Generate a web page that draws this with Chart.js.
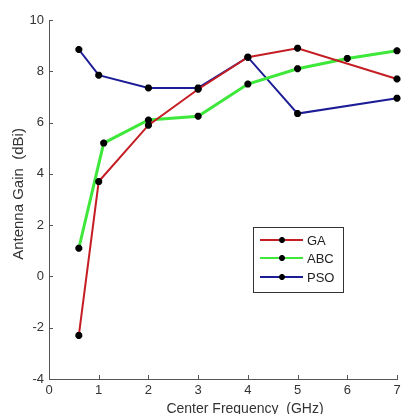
<!DOCTYPE html>
<html>
<head>
<meta charset="utf-8">
<script src="https://cdn.jsdelivr.net/npm/chart.js@4"></script>
<style>
  body { margin: 0; background: #fff; }
  #wrap { width: 401px; height: 414px; }
</style>
</head>
<body>
<div id="wrap"><canvas id="gainChart" width="401" height="414"></canvas></div>
<script>
// values
var gaFreq = [0.6, 1, 2, 3, 4, 5, 7];
var gaGain = [-2.3, 3.7, 5.9, 7.3, 8.55, 8.9, 7.7];
var abcFreq = [0.6, 1.1, 2, 3, 4, 5, 6, 7];
var abcGain = [1.1, 5.2, 6.1, 6.25, 7.5, 8.1, 8.5, 8.8];
var psoFreq = [0.6, 1, 2, 3, 4, 5, 7];
var psoGain = [8.85, 7.85, 7.35, 7.35, 8.55, 6.35, 6.95];
var seriesNames = ['GA', 'ABC', 'PSO'];
var xTicks = [0, 1, 2, 3, 4, 5, 6, 7];
var yTicks = [-4, -2, 0, 2, 4, 6, 8, 10];
var xTitle = 'Center Frequency  (GHz)';
var yTitle = 'Antenna Gain  (dBi)';

var FONT = '"Liberation Sans", Arial, sans-serif';

function toPoints(xs, ys) {
    var pts = [];
    for (var i = 0; i < xs.length; i++) {
        pts.push({x: xs[i], y: ys[i]});
    }
    return pts;
}

// matlab style: ticks point inwards, x labels and titles placed by hand
// (chart.js would shrink the plot to fit the "7" that matlab lets hang off the edge)
var axisExtras = {
    id: 'axisExtras',
    afterDraw: function(chart) {
        var c = chart.ctx;
        var xs = chart.scales.x, ys = chart.scales.y;
        var a = chart.chartArea;
        c.save();
        c.strokeStyle = '#555';
        c.lineWidth = 1;
        c.beginPath();
        xTicks.forEach(function(t) {
            var px = Math.round(xs.getPixelForValue(t)) + 0.5;
            c.moveTo(px, a.bottom);
            c.lineTo(px, a.bottom - 4);
        });
        yTicks.forEach(function(t) {
            var py = Math.round(ys.getPixelForValue(t)) + 0.5;
            c.moveTo(a.left, py);
            c.lineTo(a.left + 4, py);
        });
        c.stroke();

        c.fillStyle = '#333';
        c.textAlign = 'center';
        c.textBaseline = 'middle';
        c.font = '13px ' + FONT;
        xTicks.forEach(function(t) {
            c.fillText(String(t), xs.getPixelForValue(t), a.bottom + 11);
        });
        c.font = '14px ' + FONT;
        c.fillText(xTitle, 245, 409);
        c.translate(19, 194);
        c.rotate(-Math.PI / 2);
        c.font = '15px ' + FONT;
        c.fillText(yTitle, 0, 0);
        c.restore();
    }
};

// legend box inside the plot
var boxLegend = {
    id: 'boxLegend',
    afterDraw: function(chart) {
        var c = chart.ctx;
        var bx = 253, by = 227, bw = 90, bh = 65;
        c.save();
        c.fillStyle = '#fff';
        c.fillRect(bx, by, bw, bh);
        c.strokeStyle = '#333';
        c.lineWidth = 1;
        c.strokeRect(bx + 0.5, by + 0.5, bw, bh);
        var rows = [240, 258, 277];
        chart.data.datasets.forEach(function(ds, i) {
            var y = rows[i];
            c.strokeStyle = ds.borderColor;
            c.lineWidth = 2;
            c.beginPath();
            c.moveTo(260, y);
            c.lineTo(303, y);
            c.stroke();
            c.strokeStyle = '#000';
            c.fillStyle = '#000';
            Chart.helpers.drawPoint(c, {pointStyle: 'star', radius: 3, borderWidth: 2}, 282, y);
            c.fillStyle = '#222';
            c.font = '13px ' + FONT;
            c.textBaseline = 'middle';
            c.textAlign = 'left';
            c.fillText(ds.label, 307, y + 1);
        });
        c.restore();
    }
};

const ctx = document.getElementById('gainChart');
new Chart(ctx, {
    type: 'line',
    data: {
        datasets: [{
            label: seriesNames[0],
            data: toPoints(gaFreq, gaGain),
            borderColor: '#c41e24',
            borderWidth: 2,
        },
        {
            label: seriesNames[1],
            data: toPoints(abcFreq, abcGain),
            borderColor: '#3ee83a',
            borderWidth: 3,
        },
        {
            label: seriesNames[2],
            data: toPoints(psoFreq, psoGain),
            borderColor: '#1c1c96',
            borderWidth: 2,
        }
        ]
    },
    options: {
        responsive: false,
        animation: false,
        layout: { autoPadding: false, padding: { left: 0, right: 4, top: 20, bottom: 0 } },
        datasets: {
            line: {
                pointStyle: 'star',
                pointRadius: 3.5,
                pointBorderWidth: 2.5,
                pointBorderColor: '#000',
                pointBackgroundColor: '#000',
                clip: 8
            }
        },
        elements: {
            line: { tension: 0, fill: false }
        },
        plugins: {
            legend: { display: false },
            tooltip: { enabled: false }
        },
        scales: {
            x: {
                type: 'linear',
                min: 0,
                max: 7,
                afterFit: function(s) {
                    s.height = 35;
                },
                afterBuildTicks: function(s) {
                    s.ticks = xTicks.map(function(v) { return {value: v}; });
                },
                grid: { display: false, drawTicks: false },
                border: { display: true, color: '#555', width: 1 },
                ticks: { display: false },
                title: { display: false }
            },
            y: {
                min: -4,
                max: 10,
                afterFit: function(s) {
                    s.width = 49;
                    s.paddingTop = 0;
                    s.paddingBottom = 0;
                },
                afterBuildTicks: function(s) {
                    s.ticks = yTicks.map(function(v) { return {value: v}; });
                },
                grid: { display: false, drawTicks: false },
                border: { display: true, color: '#555', width: 1 },
                ticks: {
                    padding: 5,
                    color: '#333',
                    font: { family: FONT, size: 13 }
                },
                title: { display: false }
            }
        }
    },
    plugins: [axisExtras, boxLegend]
});
</script>
</body>
</html>
